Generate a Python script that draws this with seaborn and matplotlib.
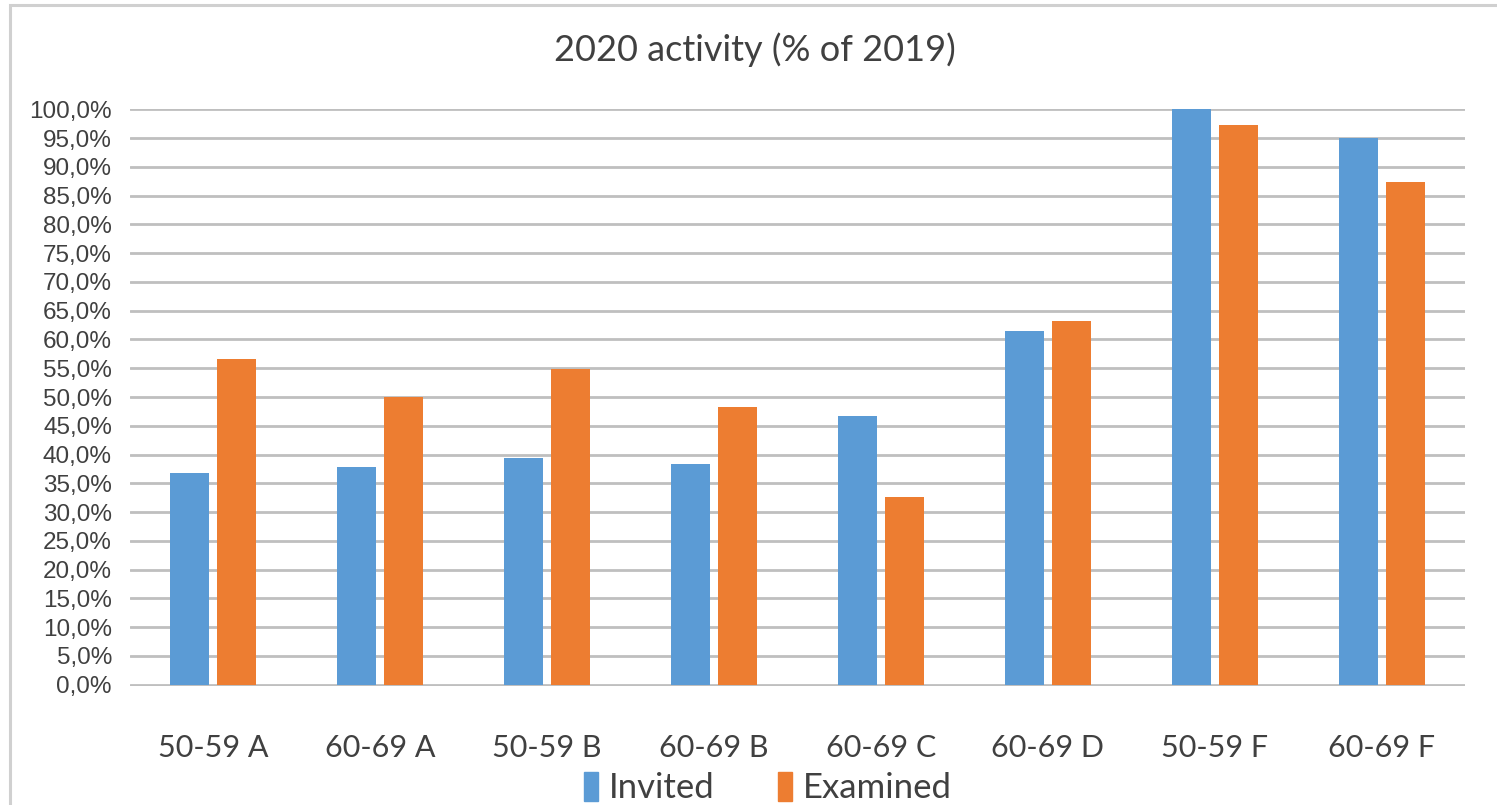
import numpy as np
import pandas as pd
import matplotlib
matplotlib.use("Agg")
import matplotlib.pyplot as plt
from matplotlib.patches import Rectangle
from matplotlib.ticker import FixedLocator, FixedFormatter
import seaborn as sns

# Screening activity in 2020 relative to 2019, per age group and region
categories = ["50-59 A", "60-69 A", "50-59 B", "60-69 B",
              "60-69 C", "60-69 D", "50-59 F", "60-69 F"]
invited = [36.8, 37.9, 39.4, 38.3, 46.7, 61.5, 100.0, 95.0]
examined = [56.6, 50.0, 54.8, 48.2, 32.7, 63.2, 97.3, 87.4]
series_names = ["Invited", "Examined"]
title = "2020 activity (% of 2019)"
y_ticks = list(range(0, 101, 5))
y_tick_labels = [f"{v},0%" for v in y_ticks]

df = pd.DataFrame({
    "category": categories * 2,
    "value": invited + examined,
    "series": [series_names[0]] * len(categories) + [series_names[1]] * len(categories),
})

sns.set_theme(style="white")
plt.rcParams["font.family"] = ["Lato", "DejaVu Sans"]

W, H = 1497, 805
fig = plt.figure(figsize=(W / 100, H / 100), dpi=100)
fig.patch.set_facecolor("white")

# plot area in pixel terms
left_px, right_px, top_px, bottom_px = 130, 1465, 108.5, 685.5
ax = fig.add_axes([left_px / W, 1 - bottom_px / H,
                   (right_px - left_px) / W, (bottom_px - top_px) / H])

palette = {"Invited": "#5B9BD5", "Examined": "#ED7D31"}
sns.barplot(data=df, x="category", y="value", hue="series", order=categories,
            hue_order=series_names, palette=palette, width=0.563, gap=0.17,
            saturation=1, linewidth=0, ax=ax, zorder=3, legend=True)

ax.set_ylim(-0.15, 100.15)
ax.set_xlim(-0.5, len(categories) - 0.5)
ax.yaxis.set_major_locator(FixedLocator(y_ticks))
ax.yaxis.set_major_formatter(FixedFormatter(y_tick_labels))
ax.yaxis.grid(True, color="#BFBFBF", linewidth=2.0, zorder=0)
ax.xaxis.grid(False)
for s in ax.spines.values():
    s.set_visible(False)
ax.set_xlabel("")
ax.set_ylabel("")
ax.tick_params(axis="y", length=0, pad=13, labelsize=17.5, labelcolor="#404040")
ax.tick_params(axis="x", length=0, pad=35, labelsize=22, labelcolor="#404040")
for lbl in ax.get_yticklabels():
    lbl.set_fontfamily(["Liberation Sans", "DejaVu Sans"])

ax.get_legend().remove()
handles = [Rectangle((0, 0), 1, 1, color=palette[n]) for n in series_names]
fig.legend(handles, series_names, loc="center", bbox_to_anchor=(768 / W, 1 - 788 / H),
           ncol=2, frameon=False, fontsize=25, handlelength=0.4, handleheight=0.9,
           handletextpad=0.3, columnspacing=1.85, labelcolor="#404040",
           borderpad=0, borderaxespad=0)

fig.text(755 / W, 1 - 50 / H, title, ha="center", va="center",
         fontsize=26, color="#404040")

# chart area border
fig.add_artist(Rectangle((10 / W, -0.1), 1.2, 1 - 5 / H + 0.1,
                         transform=fig.transFigure, fill=False,
                         edgecolor="#D0D0D0", linewidth=2.2))

fig.savefig("out.png", dpi=100, facecolor="white")
